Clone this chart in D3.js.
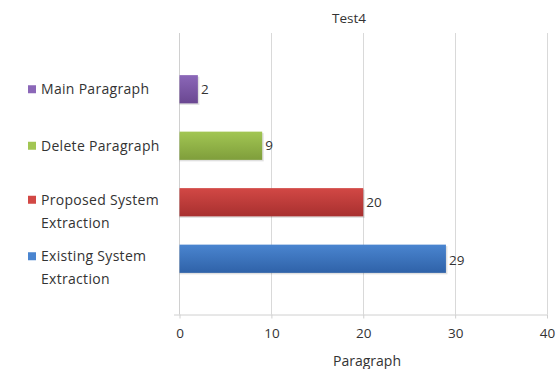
<!DOCTYPE html>
<html><head><meta charset="utf-8">
<script src="https://cdn.jsdelivr.net/npm/d3@7"></script>
<style>body{margin:0;background:#fff}svg{display:block}text{font-family:"Open Sans","Noto Sans",sans-serif;fill:#333}</style>
</head><body>
<script>
const categories = ["Main Paragraph","Delete Paragraph","Proposed System Extraction","Existing System Extraction"];
const legendLines = [["Main Paragraph"],["Delete Paragraph"],["Proposed System","Extraction"],["Existing System","Extraction"]];
const values = [2,9,20,29];
const colors = [["#8b67b8","#6a4791"],["#a2c653","#7f9e3b"],["#d24845","#a8302f"],["#4a85d0","#2f62a8"]];
const xTicks = [0,10,20,30,40];
const title = "Test4";
const xTitle = "Paragraph";

const W=558,H=369;
const svg=d3.select("body").append("svg").attr("width",W).attr("height",H);
const x=d3.scaleLinear().domain([0,40]).range([179.5,547]);
const y=d3.scaleBand().domain(categories).range([61,287]).paddingInner(0.5).paddingOuter(0.25);
const gridTop=33, axisY=314.5;

const defs=svg.append("defs");
colors.forEach((c,i)=>{
  const g=defs.append("linearGradient").attr("id","g"+i).attr("x1",0).attr("y1",0).attr("x2",0).attr("y2",1);
  g.append("stop").attr("offset","0%").attr("stop-color",c[0]);
  g.append("stop").attr("offset","100%").attr("stop-color",c[1]);
});

// grid
svg.append("g").selectAll("line").data(xTicks.slice(1)).join("line")
  .attr("x1",d=>Math.round(x(d))+0.5).attr("x2",d=>Math.round(x(d))+0.5)
  .attr("y1",gridTop).attr("y2",axisY).attr("stroke","#d9d9d9");
// left axis line
svg.append("line").attr("x1",179.5).attr("x2",179.5).attr("y1",gridTop).attr("y2",axisY).attr("stroke","#d0d0d0");

// x axis
const ax=svg.append("g").attr("transform",`translate(0,${axisY})`)
  .call(d3.axisBottom(x).tickValues(xTicks).tickSize(4).tickPadding(10));
ax.select(".domain").attr("d",`M174,0.5H${x(40)}`).attr("stroke","#d0d0d0");
ax.selectAll(".tick line").attr("stroke","#d0d0d0");
ax.selectAll(".tick text").style("font-size","13.5px").attr("fill","#333");

// bars
svg.append("g").selectAll("rect.shadow").data(values).join("rect")
  .attr("x",x(0)).attr("y",(d,i)=>y(categories[i])+1.5)
  .attr("width",d=>x(d)-x(0)+1.5).attr("height",y.bandwidth())
  .attr("fill","#000").attr("opacity",0.12);
svg.append("g").selectAll("rect.bar").data(values).join("rect")
  .attr("x",x(0)).attr("y",(d,i)=>y(categories[i]))
  .attr("width",d=>x(d)-x(0)).attr("height",y.bandwidth())
  .attr("fill",(d,i)=>`url(#g${i})`);

// labels
svg.append("g").selectAll("text").data(values).join("text")
  .attr("x",d=>x(d)+3).attr("y",(d,i)=>y(categories[i])+y.bandwidth()/2+(i===3?2:0))
  .attr("dy","0.35em").style("font-size","13.5px").text(d=>d);

// legend
const lg=svg.append("g");
legendLines.forEach((lines,i)=>{
  const cy=y(categories[i])+y.bandwidth()/2;
  const firstY = lines.length>1 ? cy-2.5 : cy;
  lg.append("rect").attr("x",28).attr("y",firstY-4).attr("width",8).attr("height",8).attr("fill",colors[i][0]);
  lines.forEach((t,j)=>{
    lg.append("text").attr("x",41).attr("y",firstY+j*23.3).attr("dy","0.35em")
      .style("font-size","14px").style("letter-spacing","0.3px").text(t);
  });
});

// titles
svg.append("text").attr("x",349).attr("y",18).attr("text-anchor","middle").attr("dy","0.35em")
  .style("font-size","13.5px").text(title);
svg.append("text").attr("x",367).attr("y",361).attr("text-anchor","middle").attr("dy","0.35em")
  .style("font-size","14px").text(xTitle);
</script>
</body></html>
